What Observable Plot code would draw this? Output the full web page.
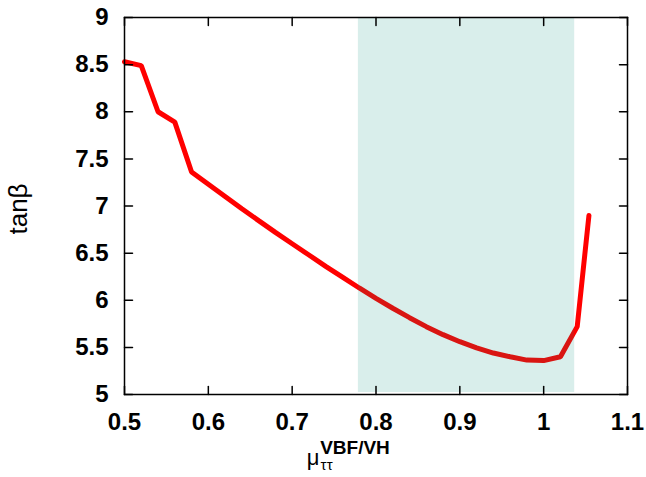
<!DOCTYPE html>
<html>
<head>
<meta charset="utf-8">
<script src="https://cdn.jsdelivr.net/npm/d3@7"></script>
<script src="https://cdn.jsdelivr.net/npm/@observablehq/plot@0.6"></script>
<style>
  html, body { margin: 0; padding: 0; background: #fff; }
  svg { display: block; }
</style>
</head>
<body>
<div id="chart"></div>
<script>
const muX = [0.50, 0.52, 0.54, 0.56, 0.58, 0.60, 0.62, 0.64, 0.66, 0.68, 0.70, 0.72, 0.74, 0.76, 0.78, 0.80, 0.82, 0.84, 0.86, 0.88, 0.90, 0.92, 0.94, 0.96, 0.98, 1.00, 1.02, 1.04, 1.054];
const tanBeta = [8.53, 8.49, 8.00, 7.89, 7.36, 7.23, 7.10, 6.97, 6.845, 6.72, 6.60, 6.48, 6.36, 6.245, 6.13, 6.02, 5.915, 5.815, 5.72, 5.635, 5.56, 5.495, 5.44, 5.40, 5.365, 5.36, 5.40, 5.72, 6.90];
const bandX = [0.779, 1.037];
const xTicks = [0.5, 0.6, 0.7, 0.8, 0.9, 1.0, 1.1];
const xTickLabels = ["0.5", "0.6", "0.7", "0.8", "0.9", "1", "1.1"];
const yTicks = [5, 5.5, 6, 6.5, 7, 7.5, 8, 8.5, 9];
const yTickLabels = ["5", "5.5", "6", "6.5", "7", "7.5", "8", "8.5", "9"];

const curve = muX.map((x, i) => ({x, y: tanBeta[i]}));
const band = [{x1: bandX[0], x2: bandX[1]}];
const tickShape = {draw(ctx, l) { ctx.moveTo(0, 0); ctx.lineTo(0, -l); }};
const tickOpts = {length: 8, anchor: "start", shape: tickShape, stroke: "black", strokeWidth: 1.5};

const plot = Plot.plot({
  width: 646,
  height: 477,
  marginLeft: 124,
  marginRight: 19,
  marginTop: 17,
  marginBottom: 83,
  style: {fontFamily: "'Liberation Sans', Arial, sans-serif", background: "#fff"},
  x: {domain: [0.5, 1.1]},
  y: {domain: [5, 9]},
  marks: [
    Plot.line(curve, {x: "x", y: "y", stroke: "#ff0000", strokeWidth: 5, strokeLinejoin: "miter"}),
    Plot.rect(band, {x1: "x1", x2: "x2", fill: "rgb(0,140,120)", fillOpacity: 0.15, insetBottom: 2}),
    Plot.vector(xTicks, {x: d => d, frameAnchor: "bottom", rotate: 0, ...tickOpts}),
    Plot.vector(xTicks, {x: d => d, frameAnchor: "top", rotate: 180, ...tickOpts}),
    Plot.vector(yTicks, {y: d => d, frameAnchor: "left", rotate: 90, ...tickOpts}),
    Plot.vector(yTicks, {y: d => d, frameAnchor: "right", rotate: -90, ...tickOpts}),
    Plot.frame({stroke: "black", strokeWidth: 1.5}),
    Plot.axisX({ticks: xTicks, tickFormat: (d, i) => xTickLabels[i], tickSize: 0, tickPadding: 18, fontSize: 24, fontWeight: "bold", label: null, color: "black"}),
    Plot.axisY({ticks: yTicks, tickFormat: (d, i) => yTickLabels[i], tickSize: 0, tickPadding: 16, fontSize: 24, fontWeight: "bold", label: null, color: "black"})
  ]
});
document.getElementById("chart").appendChild(plot);

const svg = d3.select(plot);
svg.append("text")
  .attr("transform", "translate(27,209) rotate(-90)")
  .attr("text-anchor", "middle")
  .attr("font-family", "'Liberation Sans', Arial, sans-serif")
  .attr("font-size", 26)
  .attr("fill", "black")
  .text("tanβ");

const xl = svg.append("text")
  .attr("x", 320).attr("y", 465)
  .attr("font-family", "'Liberation Sans', Arial, sans-serif")
  .attr("font-size", 22)
  .attr("fill", "black");
xl.append("tspan").text("μ");
xl.append("tspan").attr("dx", 1).attr("dy", 5).attr("font-size", 15).attr("letter-spacing", 0.5).text("ττ");
xl.append("tspan").attr("x", 355).attr("dy", -16).attr("font-size", 19).attr("font-weight", "bold").text("VBF/VH");
</script>
</body>
</html>
